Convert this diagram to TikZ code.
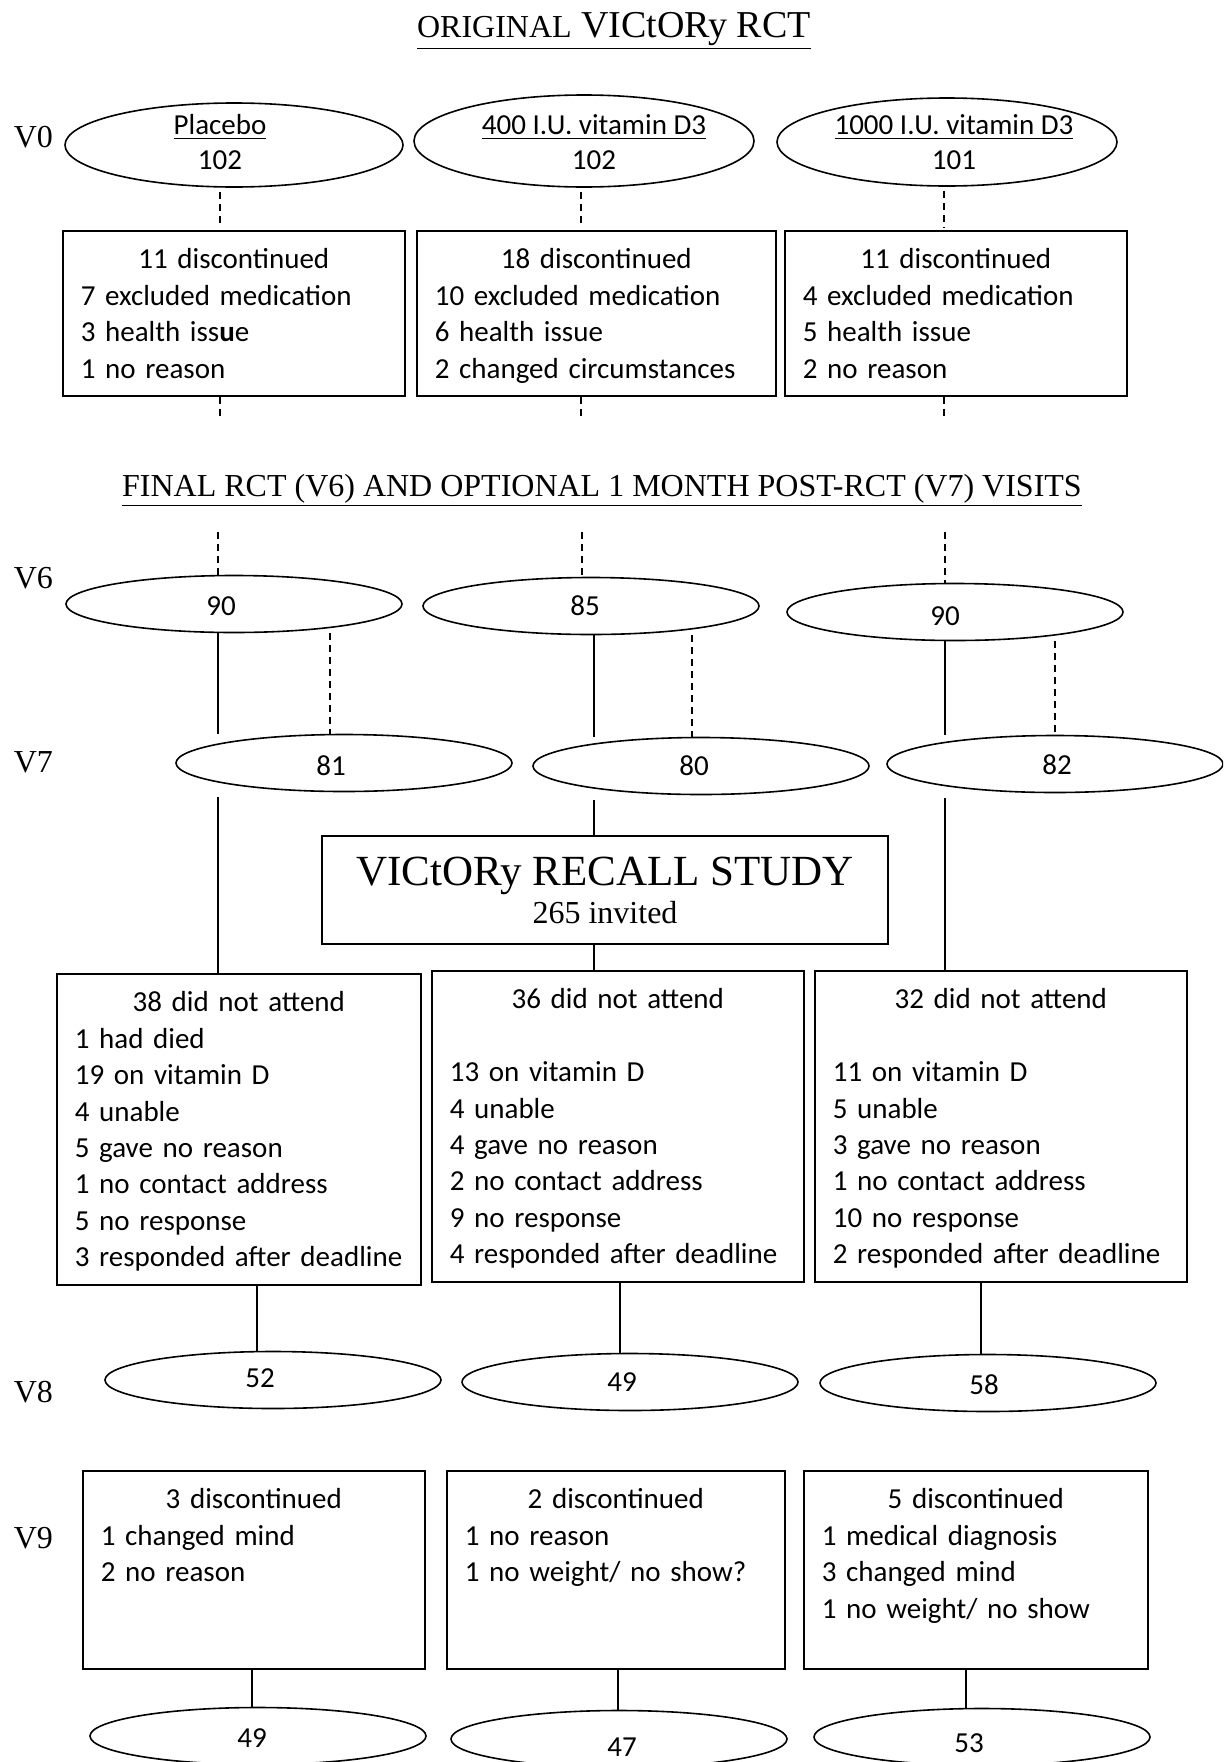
\documentclass[tikz,border=0pt]{standalone}
\usepackage{fontspec}
\setmainfont{Liberation Serif}
\newfontfamily\carfont{Carlito}
\usetikzlibrary{positioning, shapes.geometric}
\newcommand{\boxhead}[1]{\hfill #1\hfill\null}

\begin{document}
\begin{tikzpicture}[x=0.5pt, y=-0.5pt, line width=0.8pt,
    grp/.style={draw, ellipse, inner sep=0pt, minimum width=168pt, minimum height=28.5pt},
    num/.style={font=\carfont\fontsize{14.5}{17.5}\selectfont},
    why/.style={draw, align=left, anchor=north west, inner xsep=9pt, inner ysep=9pt,
        text height=10pt, font=\carfont\fontsize{14.5}{18.2}\selectfont},
    visit/.style={anchor=base west, inner sep=0pt, font=\fontsize{16}{19}\selectfont},
    dsh/.style={dash pattern=on 3.5pt off 2.5pt}]
    \useasboundingbox (0,0) rectangle (1223,1762);
    \clip (0,0) rectangle (1223,1762);

    % headings
    \node[anchor=base, inner sep=0pt, font=\fontsize{19}{22}\selectfont] (title0) at (614,37)
        {\underline{{\fontsize{16}{19}\selectfont ORIGINAL} VICtORy RCT}};
    \node[anchor=base, inner sep=0pt, font=\fontsize{16}{19}\selectfont] (title6) at (602,496)
        {\underline{FINAL RCT (V6) AND OPTIONAL 1 MONTH POST-RCT (V7) VISITS}};

    % visit labels
    \node[visit] (lab0) at (13,147) {V0};
    \node[visit] (lab6) at (13,588) {V6};
    \node[visit] (lab7) at (13,772) {V7};
    \node[visit] (lab8) at (13,1402) {V8};
    \node[visit] (lab9) at (13,1548) {V9};

    % V0 groups
    \node[grp, minimum width=169pt, minimum height=42pt] (pla0) at (234,145) {};
    \node[grp, minimum width=170pt, minimum height=46pt] (low0) at (584,141) {};
    \node[grp, minimum width=170pt, minimum height=44pt] (high0) at (947,142) {};
    \node[num, align=center] (pla0txt) at (220,142.5) {\underline{Placebo}\\102};
    \node[num, align=center] (low0txt) at (594,142.5) {\underline{400 I.U. vitamin D3}\\102};
    \node[num, align=center] (high0txt) at (954,142.5) {\underline{1000 I.U. vitamin D3}\\101};

    % stopped during the RCT
    \node[why, text width=153pt, text depth=54.5pt] (stop1) at (62,230)
        {\boxhead{11 discontinued}\\7 excluded medication\\3 health iss\textbf{u}e\\1 no reason};
    \node[why, text width=161.5pt, text depth=54.5pt] (stop2) at (416,230)
        {\boxhead{18 discontinued}\\10 excluded medication\\6 health issue\\2 changed circumstances};
    \node[why, text width=153pt, text depth=54.5pt] (stop3) at (784,230)
        {\boxhead{11 discontinued}\\4 excluded medication\\5 health issue\\2 no reason};

    % V6 and V7
    \node[grp] (v6a) at (234,604) {};
    \node[grp] (v6b) at (591,606) {};
    \node[grp] (v6c) at (955,612) {};
    \node[num] (v6aN) at (221,606) {90};
    \node[num] (v6bN) at (585,606) {85};
    \node[num] (v6cN) at (945,616) {90};
    \node[grp] (v7a) at (344,763) {};
    \node[grp] (v7b) at (701,766) {};
    \node[grp] (v7c) at (1055,764) {};
    \node[num] (v7aN) at (331,766) {81};
    \node[num] (v7bN) at (694,766) {80};
    \node[num] (v7cN) at (1057,765) {82};

    \node[draw, align=center, minimum width=283pt, minimum height=54pt, font=\fontsize{16}{19}\selectfont] (recall) at (605,890)
        {{\fontsize{21.5}{21.5}\selectfont VICtORy RECALL STUDY}\\265 invited};

    % not attending the recall
    \node[why, text width=164pt, text depth=127.5pt] (miss1) at (56,973)
        {\boxhead{38 did not attend}\\1 had died\\19 on vitamin D\\4 unable\\5 gave no reason\\1 no contact address\\5 no response\\3 responded after deadline};
    \node[why, text width=168pt, text depth=127.5pt] (miss2) at (431,970)
        {\boxhead{36 did not attend}\\\mbox{}\\13 on vitamin D\\4 unable\\4 gave no reason\\2 no contact address\\9 no response\\4 responded after deadline};
    \node[why, text width=168pt, text depth=127.5pt] (miss3) at (814,970)
        {\boxhead{32 did not attend}\\\mbox{}\\11 on vitamin D\\5 unable\\3 gave no reason\\1 no contact address\\10 no response\\2 responded after deadline};

    % V8
    \node[grp] (v8a) at (273,1380) {};
    \node[grp] (v8b) at (630,1382) {};
    \node[grp] (v8c) at (988,1383) {};
    \node[num] (v8aN) at (260,1378) {52};
    \node[num] (v8bN) at (622,1382) {49};
    \node[num] (v8cN) at (984,1385) {58};

    % V9
    \node[why, text width=153pt, text depth=71pt] (quit1) at (82,1470)
        {\boxhead{3 discontinued}\\1 changed mind\\2 no reason};
    \node[why, text width=151pt, text depth=71pt] (quit2) at (446,1470)
        {\boxhead{2 discontinued}\\1 no reason\\1 no weight/ no show?};
    \node[why, text width=154pt, text depth=71pt] (quit3) at (803,1470)
        {\boxhead{5 discontinued}\\1 medical diagnosis\\3 changed mind\\1 no weight/ no show};

    \node[grp] (endA) at (258,1736) {};
    \node[grp] (endB) at (619,1739) {};
    \node[grp] (endC) at (982,1737) {};
    \node[num] (endAN) at (252,1738) {49};
    \node[num] (endBN) at (622,1747) {47};
    \node[num] (endCN) at (969,1743) {53};

    % connectors
    \coordinate (cut1) at (220,416);
    \coordinate (cut2) at (581,416);
    \coordinate (cut3) at (944,416);
    \coordinate (top1) at (218,532);
    \coordinate (top2) at (582,532);
    \coordinate (top3) at (945,532);

    \draw[dsh, shorten <=2pt, shorten >=1.5pt] (pla0.south -| cut1) -- (stop1.north -| cut1);
    \draw[dsh, shorten <=2pt, shorten >=1.5pt] (low0.south -| cut2) -- (stop2.north -| cut2);
    \draw[dsh, shorten <=2pt, shorten >=1.5pt] (high0.south -| cut3) -- (stop3.north -| cut3);
    \draw[dsh] (stop1.south -| cut1) -- (cut1);
    \draw[dsh] (stop2.south -| cut2) -- (cut2);
    \draw[dsh] (stop3.south -| cut3) -- (cut3);
    \draw[dsh] (top1) -- (v6a.north -| top1);
    \draw[dsh] (top2) -- (v6b.north -| top2);
    \draw[dsh] (top3) -- (v6c.north -| top3);

    \draw (v6a.south -| 218,0) -- (v7a.north -| 218,0);
    \draw[dsh] (v6a.south -| 330,0) -- (v7a.north -| 330,0);
    \draw (v6b.south -| 594,0) -- (v7b.north -| 594,0);
    \draw[dsh] (v6b.south -| 692,0) -- (v7b.north -| 692,0);
    \draw (v6c.south -| 945,0) -- (v7c.north -| 945,0);
    \draw[dsh] (v6c.south -| 1055,0) -- (v7c.north -| 1055,0);

    \draw[shorten <=2.5pt] (v7a.south -| 218,0) -- (miss1.north -| 218,0);
    \draw[shorten <=2.5pt] (v7b.south -| 594,0) -- (recall.north -| 594,0);
    \draw (recall.south -| 594,0) -- (miss2.north -| 594,0);
    \draw[shorten <=2.5pt] (v7c.south -| 945,0) -- (miss3.north -| 945,0);

    \draw (miss1.south -| 257,0) -- (v8a.north -| 257,0);
    \draw (miss2.south -| 620,0) -- (v8b.north -| 620,0);
    \draw (miss3.south -| 981,0) -- (v8c.north -| 981,0);

    \draw (quit1.south -| 252,0) -- (endA.north -| 252,0);
    \draw (quit2.south -| 618,0) -- (endB.north -| 618,0);
    \draw (quit3.south -| 966,0) -- (endC.north -| 966,0);
\end{tikzpicture}
\end{document}
